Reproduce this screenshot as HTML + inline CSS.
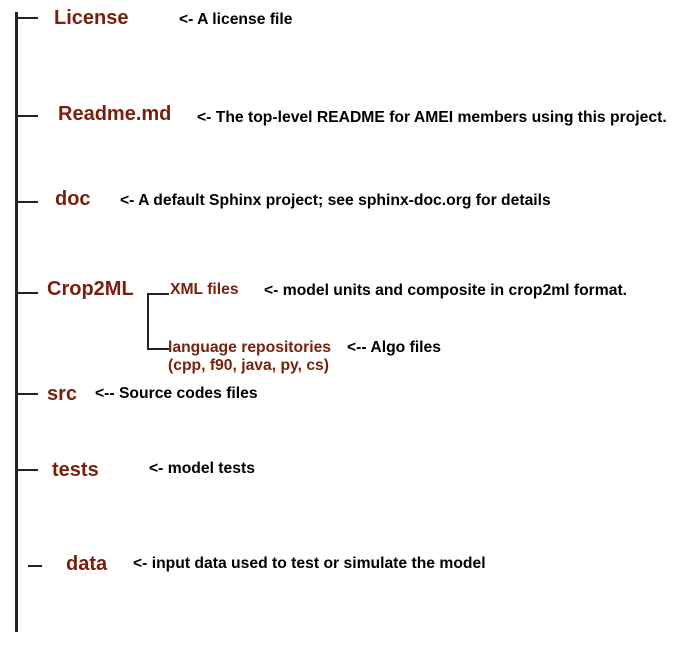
<!DOCTYPE html>
<html><head><style>
body{margin:0;width:688px;height:652px;background:#fff;position:relative;overflow:hidden;font-family:"Liberation Sans",Arial,sans-serif;font-weight:bold}
.l{position:absolute;background:#222}
.t{position:absolute;color:#7a1f0c;font-size:20px;white-space:nowrap;line-height:22px}
.s{position:absolute;color:#7a1f0c;font-size:15.7px;white-space:nowrap;line-height:18px}
.a{position:absolute;color:#000;font-size:15.7px;white-space:nowrap;line-height:18px}
</style></head><body>
<div class="l" style="left:15px;top:12px;width:3px;height:620px"></div>
<div class="l" style="left:16px;top:17px;width:22px;height:2px"></div>
<div class="l" style="left:16px;top:115px;width:22px;height:2px"></div>
<div class="l" style="left:16px;top:201px;width:22px;height:2px"></div>
<div class="l" style="left:16px;top:292px;width:22px;height:2px"></div>
<div class="l" style="left:16px;top:393px;width:22px;height:2px"></div>
<div class="l" style="left:16px;top:469px;width:22px;height:2px"></div>
<div class="l" style="left:28px;top:565px;width:14px;height:2px"></div>
<div class="l" style="left:147px;top:293px;width:2px;height:57px"></div>
<div class="l" style="left:147px;top:293px;width:22px;height:2px"></div>
<div class="l" style="left:147px;top:348px;width:22px;height:2px"></div>

<div class="t" style="left:54px;top:7px">License</div>
<div class="a" style="left:179px;top:11px">&lt;- A license file</div>
<div class="t" style="left:58px;top:103px">Readme.md</div>
<div class="a" style="left:197px;top:109px">&lt;- The top-level README for AMEI members using this project.</div>
<div class="t" style="left:55px;top:188px">doc</div>
<div class="a" style="left:120px;top:192px">&lt;- A default Sphinx project; see sphinx-doc.org for details</div>
<div class="t" style="left:47px;top:278px">Crop2ML</div>
<div class="s" style="left:170px;top:281px">XML files</div>
<div class="a" style="left:264px;top:282px">&lt;- model units and composite in crop2ml format.</div>
<div class="s" style="left:168px;top:339px">language repositories<br>(cpp, f90, java, py, cs)</div>
<div class="a" style="left:347px;top:339px">&lt;-- Algo files</div>
<div class="t" style="left:47px;top:383px">src</div>
<div class="a" style="left:95px;top:385px">&lt;-- Source codes files</div>
<div class="t" style="left:52px;top:459px">tests</div>
<div class="a" style="left:149px;top:460px">&lt;- model tests</div>
<div class="t" style="left:66px;top:553px">data</div>
<div class="a" style="left:133px;top:555px">&lt;- input data used to test or simulate the model</div>
</body></html>
